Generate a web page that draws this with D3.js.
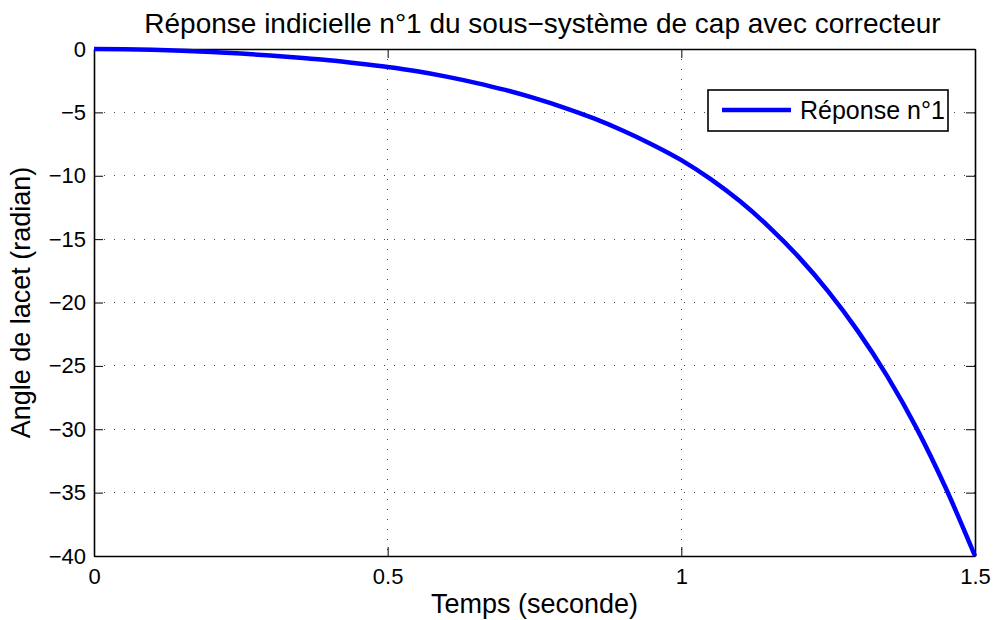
<!DOCTYPE html>
<html>
<head>
<meta charset="utf-8">
<script src="https://cdn.jsdelivr.net/npm/d3@7"></script>
<style>
  html, body { margin: 0; padding: 0; background: #fff; }
  text { font-family: "Liberation Sans", Arial, sans-serif; fill: #000; }
</style>
</head>
<body>
<div id="chart"></div>
<script>
(() => {
"use strict";

const WIDTH = 995, HEIGHT = 620;

// values (t step 0.05)
const times  = [0, 0.05, 0.1, 0.15, 0.2, 0.25, 0.3, 0.35, 0.4, 0.45,
                0.5, 0.55, 0.6, 0.65, 0.7, 0.75, 0.8, 0.85, 0.9, 0.95,
                1.0, 1.05, 1.1, 1.15, 1.2, 1.25, 1.3, 1.35, 1.4, 1.45, 1.5];
const angles = [0, -0.015, -0.06, -0.13, -0.23, -0.36, -0.51, -0.69, -0.89, -1.14,
                -1.42, -1.76, -2.18, -2.67, -3.23, -3.88, -4.62, -5.46, -6.43, -7.53,
                -8.77, -10.27, -12.02, -14.07, -16.42, -19.12, -22.22, -25.77, -29.87, -34.62, -40];
const xTicks = [0, 0.5, 1, 1.5];
const xTickLabels = ["0", "0.5", "1", "1.5"];
const yTicks = [0, -5, -10, -15, -20, -25, -30, -35, -40];
const yTickLabels = ["0", "\u22125", "\u221210", "\u221215", "\u221220", "\u221225", "\u221230", "\u221235", "\u221240"];
const title = "Réponse indicielle n°1 du sous\u2212système de cap avec correcteur";
const xLabel = "Temps (seconde)";
const yLabel = "Angle de lacet (radian)";
const seriesName = "Réponse n°1";

const margin = {left: 94, right: 20, top: 49, bottom: 64};
const x0 = margin.left, x1 = WIDTH - margin.right;
const y0 = margin.top, y1 = HEIGHT - margin.bottom;

let svg = d3.select("#chart").append("svg")
  .attr("width", WIDTH)
  .attr("height", HEIGHT);

let xScale = d3.scaleLinear().domain([0, 1.5]).range([x0, x1]);
let yScale = d3.scaleLinear().domain([-40, 0]).range([y1, y0]);

// grid
let grid = svg.append("g")
  .attr("stroke", "#444")
  .attr("stroke-width", 1)
  .attr("stroke-dasharray", "1,9")
  .attr("shape-rendering", "crispEdges");
grid.selectAll(".gx").data(xTicks.slice(1, -1)).enter().append("line")
  .attr("x1", d => xScale(d)).attr("x2", d => xScale(d))
  .attr("y1", y0).attr("y2", y1);
grid.selectAll(".gy").data(yTicks.slice(1, -1)).enter().append("line")
  .attr("y1", d => yScale(d)).attr("y2", d => yScale(d))
  .attr("x1", x0).attr("x2", x1);

// axes (ticks inward, on all four sides)
let fmtX = d => xTickLabels[xTicks.indexOf(d)];
let fmtY = d => yTickLabels[yTicks.indexOf(d)];

let xAxisB = svg.append("g")
  .attr("transform", `translate(0,${y1})`)
  .call(d3.axisBottom(xScale).tickValues(xTicks).tickFormat(fmtX).tickSizeInner(-9).tickSizeOuter(0).tickPadding(12));
let xAxisT = svg.append("g")
  .attr("transform", `translate(0,${y0})`)
  .call(d3.axisTop(xScale).tickValues(xTicks).tickFormat("").tickSizeInner(-9).tickSizeOuter(0));
let yAxisL = svg.append("g")
  .attr("transform", `translate(${x0},0)`)
  .call(d3.axisLeft(yScale).tickValues(yTicks).tickFormat(fmtY).tickSizeInner(-9).tickSizeOuter(0).tickPadding(8));
let yAxisR = svg.append("g")
  .attr("transform", `translate(${x1},0)`)
  .call(d3.axisRight(yScale).tickValues(yTicks).tickFormat("").tickSizeInner(-9).tickSizeOuter(0));

[xAxisB, xAxisT, yAxisL, yAxisR].forEach(a => {
  a.selectAll("path").attr("stroke", "#000").attr("stroke-width", 1.6);
  a.selectAll("line").attr("stroke", "#000").attr("stroke-width", 1);
  a.selectAll("text").attr("font-size", 22).attr("font-family", "Liberation Sans, Arial, sans-serif").attr("fill", "#000");
});

// curve
let line = d3.line()
  .x((d, i) => xScale(times[i]))
  .y(d => yScale(d))
  .curve(d3.curveMonotoneX);

svg.append("path")
  .datum(angles)
  .attr("fill", "none")
  .attr("stroke", "#0000ff")
  .attr("stroke-width", 4.5)
  .attr("d", line);

// titles
svg.append("text")
  .attr("x", (x0 + x1) / 2 + 8).attr("y", 33)
  .attr("text-anchor", "middle")
  .attr("font-size", 28)
  .text(title);
svg.append("text")
  .attr("x", (x0 + x1) / 2).attr("y", 613)
  .attr("text-anchor", "middle")
  .attr("font-size", 27)
  .text(xLabel);
svg.append("text")
  .attr("transform", `translate(30,${(y0 + y1) / 2}) rotate(-90)`)
  .attr("text-anchor", "middle")
  .attr("font-size", 27)
  .text(yLabel);

// legend
let legend = svg.append("g").attr("transform", "translate(708,90)");
legend.append("rect")
  .attr("width", 240).attr("height", 41)
  .attr("fill", "#fff")
  .attr("stroke", "#000")
  .attr("stroke-width", 1.6);
legend.append("line")
  .attr("x1", 14).attr("x2", 83)
  .attr("y1", 20).attr("y2", 20)
  .attr("stroke", "#0000ff")
  .attr("stroke-width", 4.5);
legend.append("text")
  .attr("x", 92).attr("y", 29)
  .attr("font-size", 25)
  .text(seriesName);
})();
</script>
</body>
</html>
